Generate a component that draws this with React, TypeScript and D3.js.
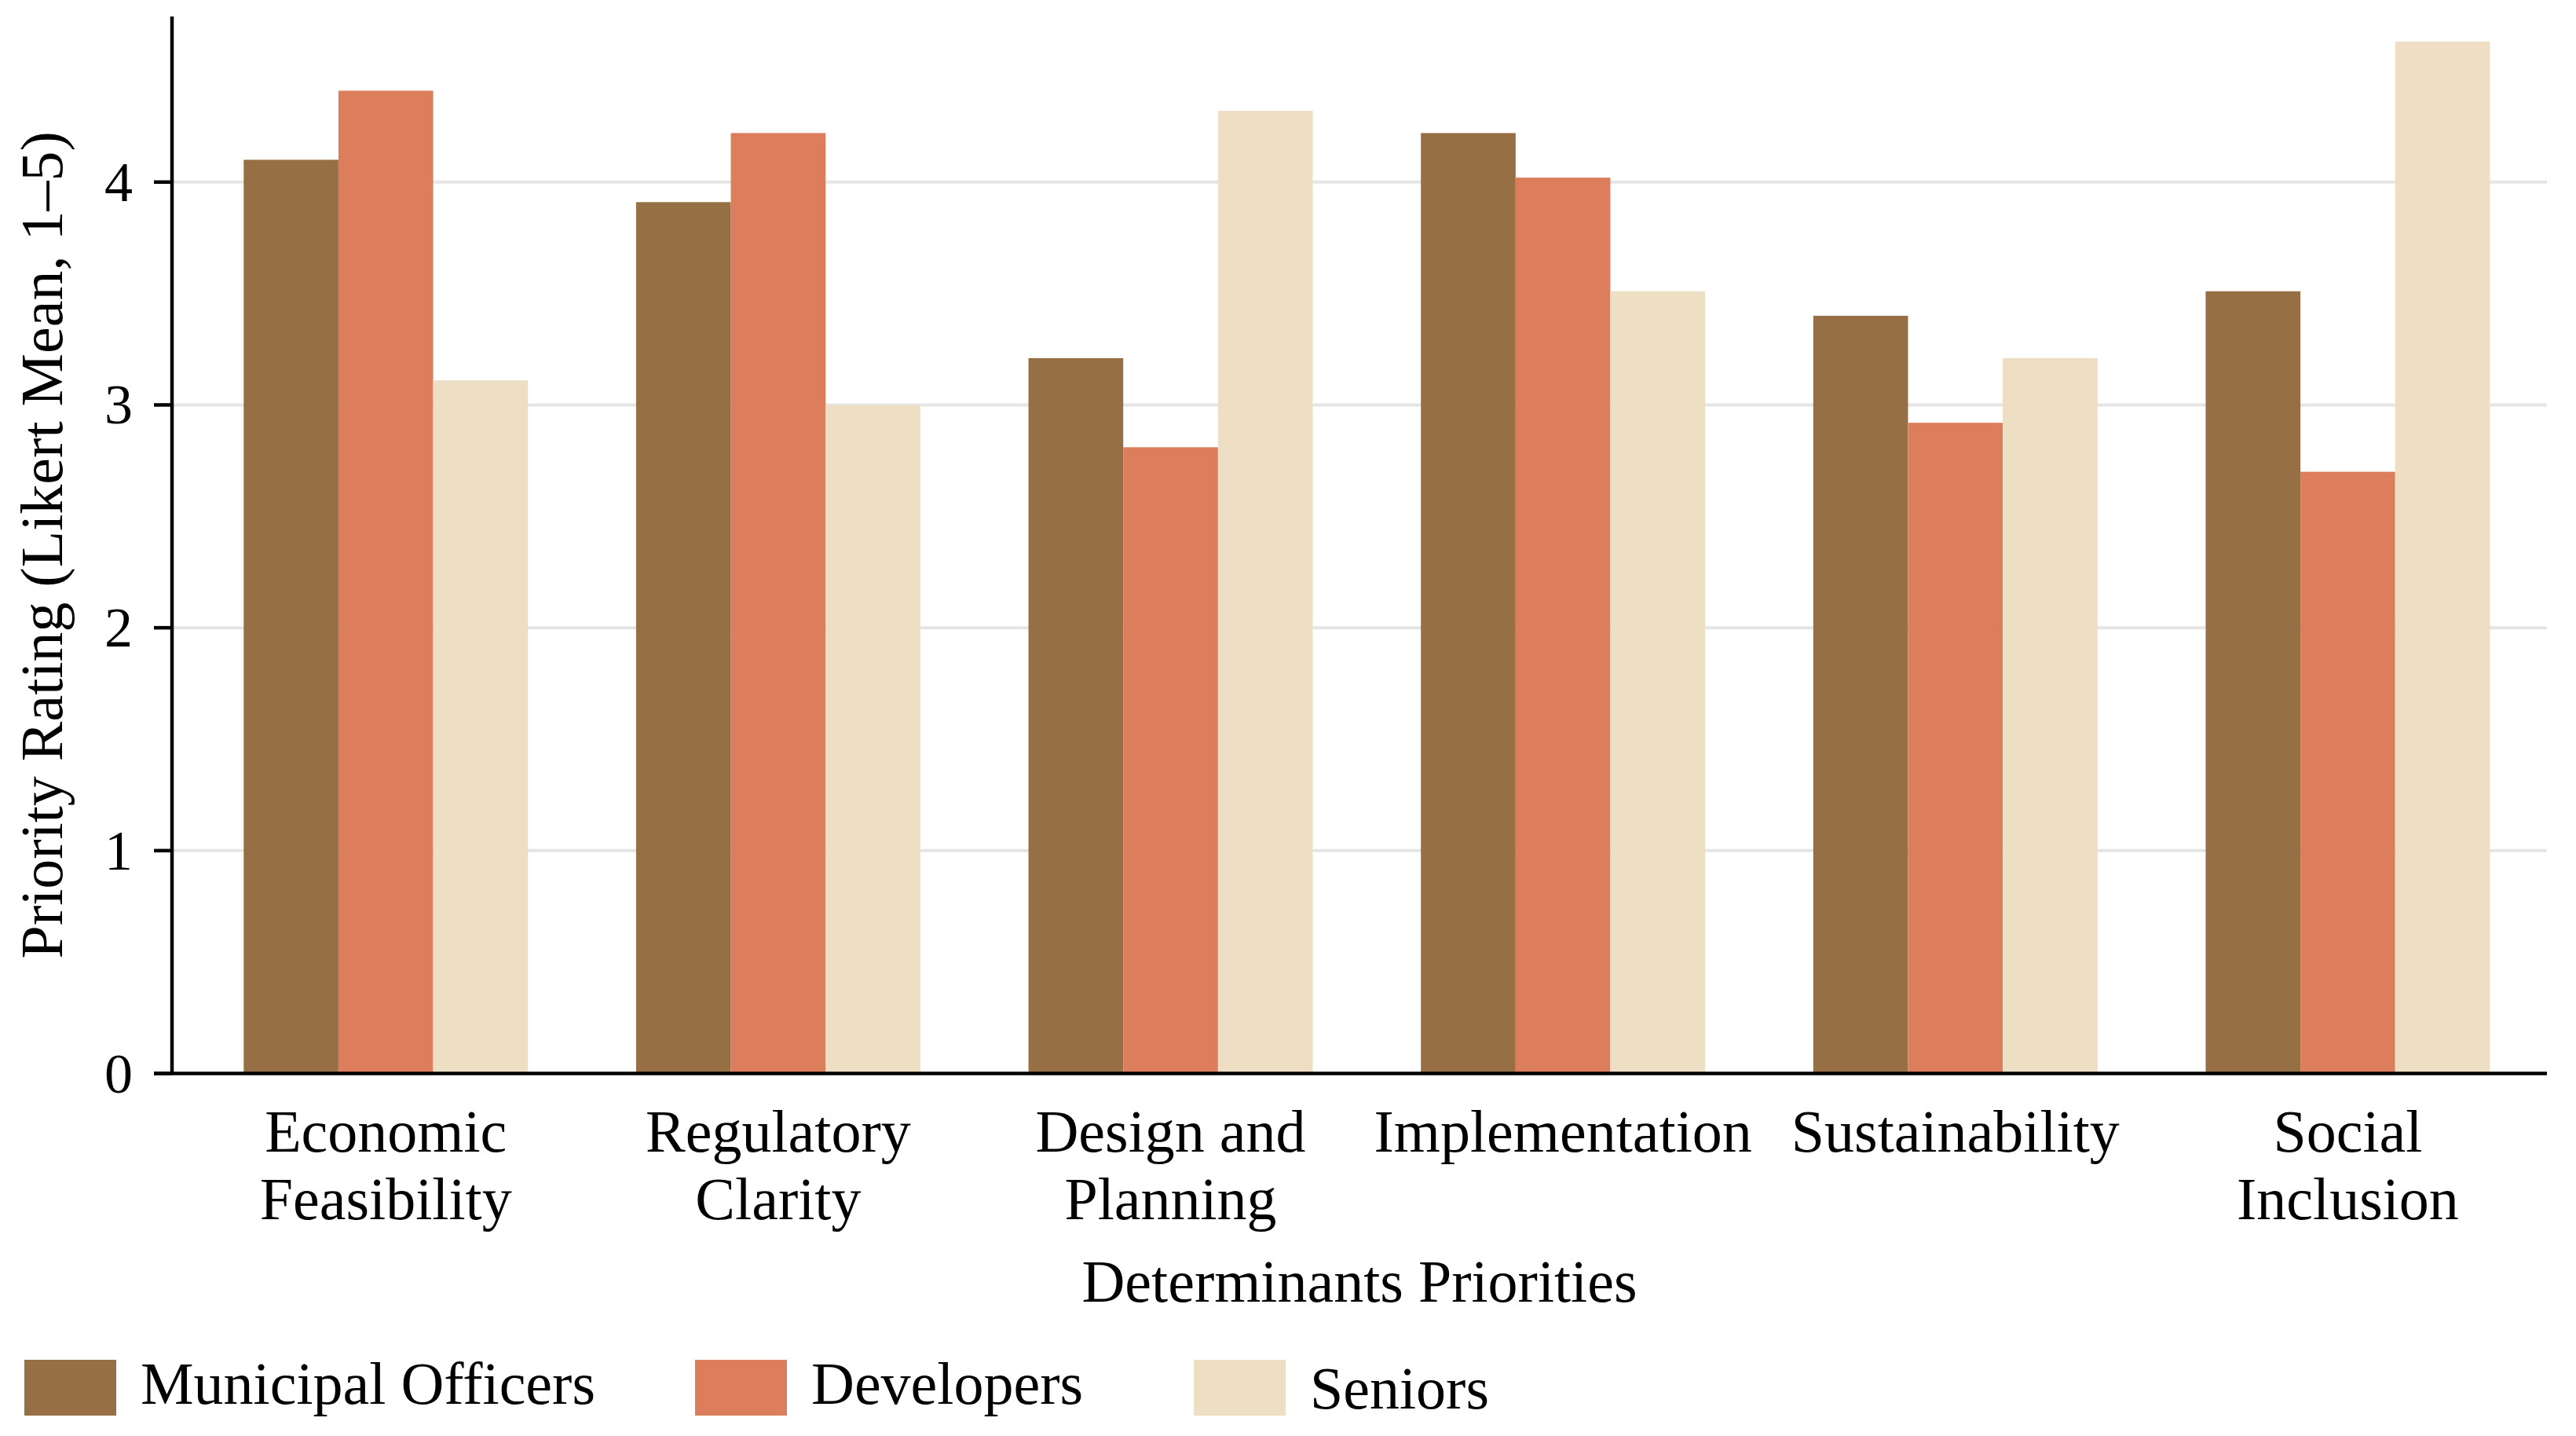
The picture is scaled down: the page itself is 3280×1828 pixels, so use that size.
import * as d3 from "d3";

const categories = ["Economic Feasibility", "Regulatory Clarity", "Design and Planning", "Implementation", "Sustainability", "Social Inclusion"];
const categoryLines = [["Economic", "Feasibility"], ["Regulatory", "Clarity"], ["Design and", "Planning"], ["Implementation"], ["Sustainability"], ["Social", "Inclusion"]];
const seriesNames = ["Municipal Officers", "Developers", "Seniors"];
const municipalOfficers = [4.1, 3.91, 3.21, 4.22, 3.4, 3.51];
const developers = [4.41, 4.22, 2.81, 4.02, 2.92, 2.7];
const seniors = [3.11, 3.0, 4.32, 3.51, 3.21, 4.63];
const yTicks = [0, 1, 2, 3, 4];

const COLORS = ["#967044", "#dc7e5c", "#eddec4"];
const FONT = "'Liberation Serif', 'Times New Roman', serif";

const W = 3280;
const H = 1828;
const left = 219;
const right = 3243;
const top = 21;
const bottom = 1366.5;

export default function App() {
    const seriesValues = [municipalOfficers, developers, seniors];

    const x = d3.scaleBand<string>().domain(categories).range([left, right]).paddingInner(0.2756).paddingOuter(0.164).align(0.557);
    const xInner = d3.scaleBand<string>().domain(seriesNames).range([0, x.bandwidth()]).padding(0);
    const y = d3.scaleLinear().domain([0, 4.743]).range([bottom, top]);
    const color = d3.scaleOrdinal<string>().domain(seriesNames).range(COLORS);

    const legendX = [31, 885, 1520];

    return (
        <div style={{ position: "absolute", left: 0, top: 0 }}>
            <svg width={W} height={H} style={{ display: "block", background: "white" }} fontFamily={FONT}>
                {/* grid */}
                {yTicks.filter((t) => t > 0).map((t) => (
                    <line key={`g${t}`} x1={left} x2={right} y1={y(t)} y2={y(t)} stroke="#e5e5e5" strokeWidth={4} />
                ))}

                {/* bars */}
                {categories.map((c, i) => (
                    <g key={c} transform={`translate(${x(c)},0)`}>
                        {seriesNames.map((s, j) => (
                            <rect
                                key={s}
                                x={xInner(s)}
                                y={y(seriesValues[j][i])}
                                width={xInner.bandwidth()}
                                height={y(0) - y(seriesValues[j][i])}
                                fill={color(s)}
                            />
                        ))}
                    </g>
                ))}

                {/* y axis */}
                <line x1={left} x2={left} y1={top} y2={bottom} stroke="black" strokeWidth={4.5} />
                {yTicks.map((t) => (
                    <g key={`t${t}`}>
                        <line x1={left - 23} x2={left} y1={y(t)} y2={y(t)} stroke="black" strokeWidth={4.5} />
                        <text x={left - 50} y={y(t)} textAnchor="end" dominantBaseline="central" fontSize={72}>
                            {t}
                        </text>
                    </g>
                ))}
                <line x1={left - 23} x2={right} y1={bottom} y2={bottom} stroke="black" strokeWidth={4.5} />

                {/* x labels */}
                {categories.map((c, i) => (
                    <text key={`l${c}`} x={(x(c) ?? 0) + x.bandwidth() / 2} y={1466} textAnchor="middle" fontSize={76}>
                        {categoryLines[i].map((line, k) => (
                            <tspan key={k} x={(x(c) ?? 0) + x.bandwidth() / 2} dy={k === 0 ? 0 : 86}>
                                {line}
                            </tspan>
                        ))}
                    </text>
                ))}

                <text x={(left + right) / 2} y={1657} textAnchor="middle" fontSize={76}>
                    Determinants Priorities
                </text>
                <text transform={`translate(79, ${(top + bottom) / 2}) rotate(-90)`} textAnchor="middle" fontSize={76}>
                    Priority Rating (Likert Mean, 1–5)
                </text>

                {/* legend */}
                {seriesNames.map((s, i) => (
                    <g key={`lg${s}`} transform={`translate(${legendX[i]},1731)`}>
                        <rect width={117} height={71} fill={color(s)} />
                        <text x={148} y={i === 2 ? 62 : 56} fontSize={76}>
                            {s}
                        </text>
                    </g>
                ))}
            </svg>
        </div>
    );
}
